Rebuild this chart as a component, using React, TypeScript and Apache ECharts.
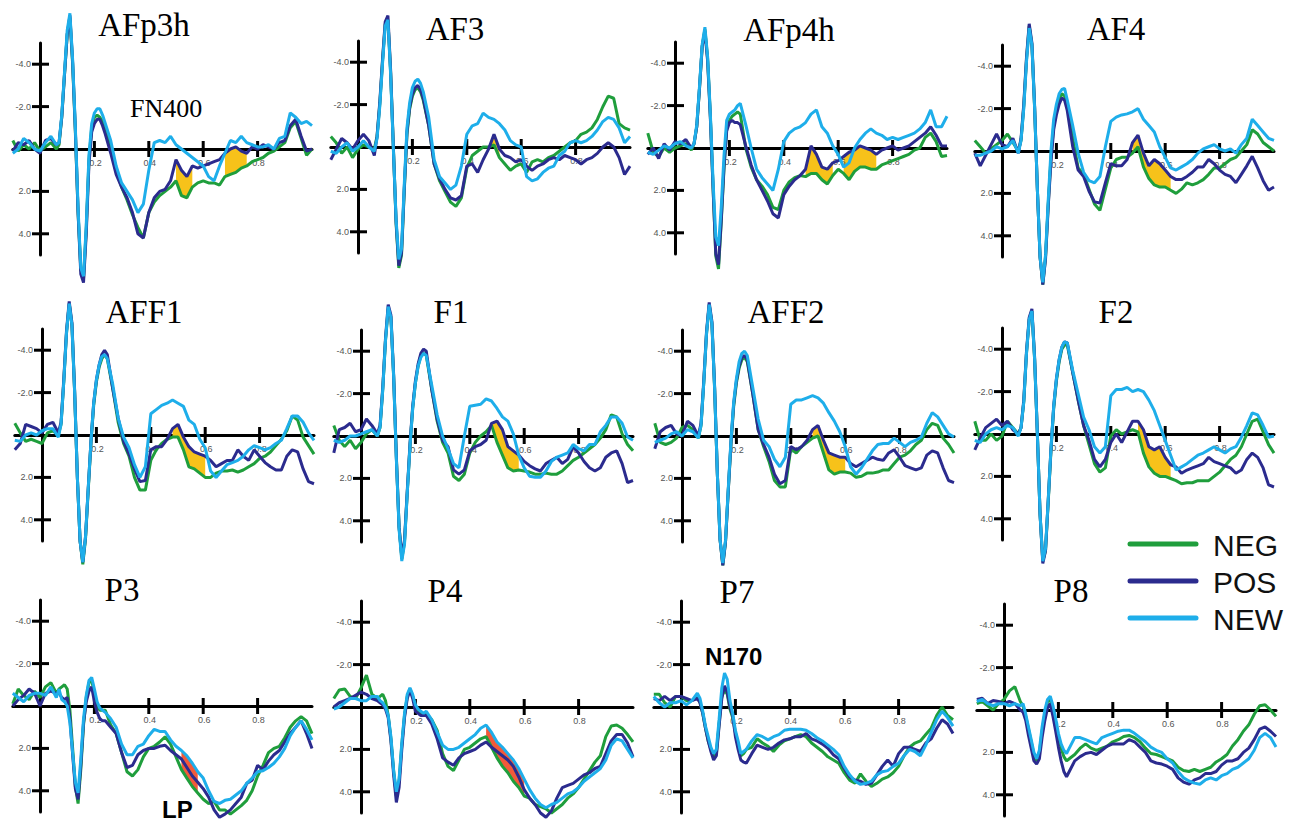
import React, { useEffect, useRef } from "react";
import * as echarts from "echarts";

// time points (s)
const T = [-0.1, -0.08, -0.06, -0.04, -0.02, 0, 0.02, 0.04, 0.06,
  0.07, 0.08, 0.09, 0.1, 0.11, 0.12, 0.13, 0.14, 0.15, 0.16, 0.17, 0.18, 0.19, 0.2, 0.21, 0.22, 0.23, 0.24,
  0.26, 0.28, 0.3, 0.32, 0.34, 0.36, 0.38, 0.4, 0.42, 0.44, 0.46, 0.48, 0.5, 0.52, 0.54, 0.56, 0.58, 0.6,
  0.62, 0.64, 0.66, 0.68, 0.7, 0.72, 0.74, 0.76, 0.78, 0.8, 0.82, 0.84, 0.86, 0.88, 0.9, 0.92, 0.94, 0.96, 0.98, 1.0];

const CHANNELS = ["AFp3h", "AF3", "AFp4h", "AF4", "AFF1", "F1", "AFF2", "F2", "P3", "P4", "P7", "P8"];
const CONDITIONS = ["NEG", "POS", "NEW"];
const X_TICKS = [0.2, 0.4, 0.6, 0.8];
const Y_TICKS = [-4, -2, 2, 4];

// amplitudes (µV), negative plotted up
const AFp3h_NEG = [-0.4, 0.1, -0.2, 0.0, -0.3, 0.1, -0.1, -0.3, 0.0,
  -0.2, -1.5, -3.5, -5.4, -6.2, -4.0, -0.8, 3.0, 5.7, 6.1, 3.8, 0.5, -1.0, -1.5, -1.6, -1.5, -1.3, -1.0,
  0.0, 1.0, 1.8, 2.4, 3.1, 3.7, 4.2, 3.0, 2.5, 2.2, 2.0, 1.8, 1.5, 2.2, 2.3, 1.8, 1.6, 1.5, 1.6, 1.6, 1.7, 1.3, 1.2, 1.1, 0.9, 0.8, 0.6, 0.5, 0.4, 0.2, 0.1, -0.1, -0.3, -1.0, -1.3, -0.5, 0.3, 0.0];
const AFp3h_POS = [0.1, -0.3, -0.2, -0.4, 0.0, 0.2, -0.4, -0.5, -0.2,
  -0.3, -1.5, -3.5, -5.4, -6.3, -4.1, -0.9, 3.0, 5.9, 6.3, 4.0, 0.7, -0.8, -1.2, -1.4, -1.4, -1.1, -0.7,
  0.2, 1.2, 1.8, 2.3, 3.0, 4.0, 4.2, 3.0, 2.3, 2.0, 1.9, 1.5, 0.5, 1.0, 1.3, 0.8, 0.9, 0.8, 0.7, 0.6, 0.5, 0.2, 0.0, -0.1, 0.1, 0.2, -0.1, 0.0, -0.2, -0.1, 0.0, -0.3, -0.4, -1.1, -1.4, -0.6, 0.1, 0.0];
const AFp3h_NEW = [0.2, 0.0, -0.5, -0.3, 0.0, 0.1, -0.3, -0.6, -0.2,
  -0.3, -1.6, -3.6, -5.6, -6.4, -4.2, -1.0, 2.8, 5.6, 6.0, 3.6, 0.3, -1.2, -1.7, -1.9, -1.9, -1.6, -1.2,
  -0.4, 0.8, 1.6, 2.0, 2.4, 3.0, 2.6, 1.0, -0.3, -0.4, -0.3, -0.6, -0.2, 0.0, 0.2, 0.4, 0.6, 0.8, 1.3, 1.5, 0.8, 0.2, -0.4, -0.3, -0.6, -0.3, -0.2, -0.1, -0.1, -0.2, 0.0, -0.5, -0.6, -1.7, -1.5, -1.2, -1.3, -1.1];

const AF3_NEG = [-0.5, -0.2, 0.3, 0.0, 0.5, 0.1, -0.1, 0.0, 0.1,
  -0.5, -2.0, -4.0, -5.8, -6.0, -3.5, 0.0, 3.6, 5.7, 5.1, 2.1, -0.6, -1.8, -2.4, -2.7, -2.8, -2.6, -2.2,
  -1.0, 0.8, 1.6, 2.1, 2.6, 2.8, 2.4, 1.0, 0.4, 0.2, 0.0, 0.0, -0.1, 0.5, 0.8, 1.1, 0.9, 0.8, 1.2, 0.7, 0.6, 0.7, 0.5, 0.4, 0.2, 0.0, -0.2, -0.3, -0.6, -0.7, -0.9, -1.3, -1.9, -2.4, -2.3, -1.1, -0.9, -0.8];
const AF3_POS = [0.6, 0.1, -0.4, -0.2, 0.1, -0.3, -0.6, -0.3, 0.4,
  -0.5, -2.1, -4.1, -5.9, -6.2, -3.6, 0.0, 3.5, 5.6, 5.0, 2.0, -0.7, -1.9, -2.5, -2.8, -2.9, -2.7, -2.3,
  -1.0, 0.8, 1.5, 2.0, 2.4, 2.5, 2.3, 0.9, 0.8, 1.2, 0.6, 0.1, -0.6, 0.1, 0.4, 0.5, 0.7, 0.6, 0.9, 1.1, 0.9, 0.8, 0.6, 0.5, 0.6, 0.4, 0.5, 0.6, 0.8, 0.6, 0.5, 0.3, 0.0, -0.2, 0.0, 0.5, 1.3, 0.9];
const AF3_NEW = [0.2, 0.3, 0.0, -0.2, 0.2, 0.0, -0.3, 0.0, 0.2,
  -0.4, -1.9, -3.9, -5.7, -6.0, -3.4, 0.1, 3.4, 5.3, 4.8, 1.8, -0.9, -2.1, -2.8, -3.1, -3.2, -3.0, -2.6,
  -1.4, 0.6, 1.4, 1.7, 2.0, 1.8, 0.9, -0.6, -1.0, -1.1, -1.6, -1.4, -1.3, -1.1, -0.8, -0.3, -0.1, 0.0, 1.4, 1.6, 1.5, 1.2, 1.0, 0.9, 0.4, 0.2, -0.2, -0.3, -0.2, -0.3, -0.5, -0.8, -1.2, -1.4, -1.3, -0.9, -0.2, -0.5];

const AFp4h_NEG = [-0.7, 0.2, 0.4, 0.0, 0.2, 0.0, -0.1, -0.2, 0.1,
  -0.2, -1.0, -2.8, -4.8, -5.6, -4.2, -1.5, 1.9, 5.1, 5.7, 3.5, 1.0, -0.9, -1.3, -1.5, -1.6, -1.7, -1.6,
  0.0, 0.9, 1.5, 1.8, 2.2, 2.8, 2.9, 2.0, 1.6, 1.4, 1.3, 1.35, 1.2, 1.2, 1.5, 1.7, 1.3, 1.0, 1.2, 1.5, 1.1, 0.9, 0.9, 1.0, 1.0, 0.8, 0.7, 0.6, 0.5, 0.4, 0.3, 0.1, 0.0, -0.5, -0.7, -0.3, 0.4, 0.35];
const AFp4h_POS = [0.3, 0.0, 0.5, -0.2, 0.1, -0.3, -0.2, -0.4, 0.0,
  -0.2, -1.0, -2.8, -4.8, -5.5, -4.1, -1.4, 1.9, 5.0, 5.5, 3.4, 0.9, -0.8, -1.2, -1.3, -1.2, -1.2, -1.1,
  -0.1, 0.8, 1.5, 2.0, 2.5, 3.1, 3.3, 2.2, 1.8, 1.5, 1.3, 1.0, -0.1, 0.3, 0.9, 1.0, 0.7, 0.6, 0.4, 0.2, 0.1, -0.1, 0.0, 0.1, 0.3, 0.1, 0.0, -0.1, 0.1, 0.0, -0.1, -0.3, -0.5, -0.7, -1.0, -0.6, -0.1, -0.1];
const AFp4h_NEW = [0.2, 0.3, 0.1, -0.1, 0.0, -0.2, -0.3, -0.1, 0.0,
  -0.2, -1.1, -2.9, -4.9, -5.7, -4.3, -1.6, 1.6, 4.2, 4.6, 2.8, 0.4, -1.3, -1.6, -1.7, -1.8, -2.0, -2.1,
  -1.1, 0.0, 1.0, 1.4, 1.7, 2.0, 1.0, -0.3, -0.7, -0.9, -1.0, -1.2, -1.6, -1.8, -1.0, -0.7, -0.1, 0.3, 0.9, 0.7, 0.0, -0.4, -0.7, -0.9, -0.7, -0.6, -0.4, -0.5, -0.4, -0.5, -0.6, -0.7, -0.9, -1.2, -1.8, -1.0, -1.0, -1.5];

const AF4_NEG = [-0.5, -0.2, 0.1, -0.1, -0.3, -0.5, -0.8, -0.4, 0.0,
  -0.5, -2.1, -4.3, -5.9, -5.0, -2.0, 1.8, 5.0, 6.3, 5.0, 2.5, 0.3, -1.2, -1.9, -2.4, -2.7, -2.6, -2.1,
  -0.6, 0.8, 1.1, 1.8, 2.5, 2.8, 1.8, 0.8, 0.4, 0.3, 0.3, 0.1, -0.2, 0.75, 1.3, 1.6, 1.7, 1.7, 1.85, 2.0, 1.8, 1.5, 1.6, 1.5, 1.35, 1.1, 0.8, 0.8, 0.6, 0.4, 0.3, 0.0, -0.3, -1.0, -0.8, -0.4, -0.2, 0.0];
const AF4_POS = [0.1, 0.7, 0.2, -0.3, -0.8, -0.3, -0.2, -0.6, 0.1,
  -0.6, -2.2, -4.4, -6.0, -5.1, -2.1, 1.8, 5.0, 6.3, 5.1, 2.6, 0.5, -1.0, -1.7, -2.2, -2.5, -2.4, -1.9,
  -0.2, 0.9, 1.2, 1.9, 2.4, 2.45, 1.5, 0.6, 0.7, 0.7, 0.4, -0.4, -0.75, 0.1, 0.7, 0.4, 0.6, 0.9, 1.2, 1.35, 1.35, 1.2, 1.0, 0.75, 0.75, 0.4, 0.6, 0.9, 1.1, 1.2, 1.5, 1.1, 0.7, 0.25, 0.8, 1.4, 1.85, 1.7];
const AF4_NEW = [0.2, 0.2, 0.1, 0.0, -0.2, -0.1, -0.2, -0.5, 0.1,
  -0.5, -2.0, -4.2, -5.8, -5.0, -2.0, 1.8, 5.0, 6.2, 4.9, 2.3, 0.0, -1.5, -2.2, -2.7, -2.9, -2.95, -2.4,
  -1.2, 0.1, 1.0, 1.4, 1.5, 1.2, -0.2, -1.4, -1.6, -1.7, -1.75, -1.85, -2.0, -1.5, -1.2, -0.9, -0.2, 0.3, 0.8, 0.9, 0.75, 0.6, 0.4, 0.1, -0.1, -0.2, -0.3, -0.1, 0.0, -0.1, 0.1, -0.3, -0.6, -1.5, -1.2, -0.9, -0.6, -0.5];

const AFF1_NEG = [-0.55, -0.1, 0.3, 0.2, 0.3, 0.4, -0.1, -0.2, 0.0,
  -0.5, -2.5, -4.8, -6.2, -5.2, -2.0, 2.0, 5.0, 6.1, 4.9, 2.6, 0.4, -1.4, -2.5, -3.2, -3.6, -3.8, -3.6,
  -2.2, -0.6, 0.4, 1.0, 2.0, 2.6, 2.6, 1.2, 0.7, 0.4, 0.2, 0.1, 0.1, 0.7, 1.5, 1.6, 1.8, 2.0, 2.0, 1.8, 1.7, 1.7, 1.65, 1.75, 1.65, 1.5, 1.35, 1.1, 1.0, 0.8, 0.5, 0.2, -0.2, -0.9, -0.7, 0.1, 0.5, 0.9];
const AFF1_POS = [0.7, 0.4, -0.5, -0.4, -0.3, -0.1, -0.5, -0.6, -0.1,
  -0.6, -2.6, -4.9, -6.3, -5.3, -2.1, 2.0, 5.0, 6.0, 4.8, 2.5, 0.3, -1.5, -2.6, -3.3, -3.8, -4.0, -3.8,
  -2.2, -0.8, 0.3, 0.9, 1.6, 2.2, 2.15, 0.7, 0.55, 0.55, 0.2, -0.3, -0.5, 0.1, 0.55, 0.8, 0.9, 1.0, 1.2, 1.5, 1.35, 1.2, 1.2, 0.7, 1.0, 1.2, 0.7, 1.0, 1.3, 1.5, 1.65, 1.65, 1.0, 0.7, 0.8, 1.6, 2.2, 2.3];
const AFF1_NEW = [0.25, 0.3, 0.0, -0.1, 0.0, -0.2, -0.3, -0.3, 0.1,
  -0.5, -2.5, -4.8, -6.2, -5.2, -2.0, 2.0, 5.0, 6.0, 4.8, 2.5, 0.3, -1.5, -2.6, -3.3, -3.7, -3.8, -3.6,
  -2.4, -0.8, 0.1, 0.6, 1.4, 2.0, 1.5, -1.0, -1.2, -1.4, -1.5, -1.65, -1.5, -1.35, -0.7, -0.5, 0.2, 0.6, 1.7, 2.0, 1.7, 1.4, 1.3, 1.2, 1.0, 0.7, 0.5, 0.6, 0.7, 0.6, 0.4, 0.25, -0.3, -0.9, -0.9, -0.6, -0.1, 0.25];

const F1_NEG = [-0.5, 0.2, 0.5, 0.2, 0.6, 0.3, -0.1, -0.3, 0.0,
  -0.4, -2.2, -4.5, -6.0, -5.6, -2.8, 1.0, 4.3, 5.8, 5.0, 2.7, 0.5, -1.3, -2.5, -3.3, -3.8, -3.9, -3.8,
  -2.2, -0.7, 0.3, 0.8, 1.9, 2.1, 1.8, 0.8, 0.3, 0.0, -0.2, -0.5, 0.3, 0.9, 1.5, 1.65, 1.6, 1.65, 1.7, 1.8, 1.8, 1.75, 1.8, 1.8, 1.65, 1.4, 1.15, 1.0, 0.8, 0.6, 0.4, 0.1, -0.3, -1.0, -0.9, -0.1, 0.4, 0.7];
const F1_POS = [0.8, -0.3, -0.4, -0.6, -0.2, -0.3, -0.8, -0.5, -0.1,
  -0.5, -2.3, -4.6, -6.2, -5.7, -2.9, 1.0, 4.3, 5.7, 4.9, 2.6, 0.4, -1.4, -2.6, -3.4, -3.9, -4.1, -4.0,
  -2.2, -0.8, 0.2, 0.5, 1.6, 1.8, 1.6, 0.7, 0.5, 0.4, 0.2, -0.6, -0.7, -0.3, 0.5, 0.7, 0.9, 1.2, 1.4, 1.55, 1.65, 1.3, 1.15, 1.0, 1.3, 1.1, 0.5, 0.8, 1.2, 1.5, 1.65, 1.5, 1.0, 0.8, 0.7, 1.3, 2.2, 2.1];
const F1_NEW = [0.2, 0.3, 0.2, 0.0, 0.0, -0.1, -0.2, -0.3, 0.0,
  -0.4, -2.2, -4.5, -6.1, -5.6, -2.8, 1.1, 4.4, 5.9, 5.1, 2.7, 0.5, -1.3, -2.5, -3.3, -3.7, -3.9, -3.8,
  -2.4, -1.0, 0.0, 0.6, 1.3, 1.5, 0.0, -1.4, -1.45, -1.5, -1.75, -1.65, -1.3, -0.9, -0.7, -0.1, 0.9, 1.5, 1.9, 1.95, 1.95, 1.65, 1.2, 1.0, 0.9, 0.8, 0.4, 0.6, 0.7, 0.4, 0.4, -0.2, -0.5, -0.9, -0.9, -0.6, 0.05, 0.2];

const AFF2_NEG = [-0.6, 0.3, 0.4, 0.3, 0.1, -0.4, -0.5, -0.3, 0.1,
  -0.5, -2.5, -4.8, -6.2, -5.3, -2.2, 1.8, 4.9, 6.1, 5.0, 2.6, 0.4, -1.4, -2.5, -3.2, -3.6, -3.7, -3.5,
  -2.0, -0.3, 0.5, 1.2, 2.1, 2.4, 2.4, 0.6, 0.8, 0.5, 0.3, 0.1, 0.0, 0.8, 1.6, 1.8, 1.7, 1.7, 1.75, 1.95, 1.9, 1.75, 1.75, 1.7, 1.6, 1.6, 1.3, 1.0, 0.9, 0.7, 0.4, 0.2, -0.3, -0.6, -0.5, 0.1, 0.4, 0.8];
const AFF2_POS = [0.6, -0.2, -0.4, -0.5, -0.1, 0.0, -0.7, -0.5, 0.0,
  -0.6, -2.6, -4.9, -6.3, -5.4, -2.3, 1.8, 4.9, 6.1, 5.0, 2.6, 0.3, -1.5, -2.6, -3.3, -3.7, -3.8, -3.6,
  -2.0, -0.3, 0.4, 1.0, 1.8, 2.25, 2.1, 0.5, 0.65, 0.5, 0.2, -0.3, -0.5, 0.2, 0.8, 0.9, 1.0, 1.0, 1.3, 1.45, 1.3, 1.15, 1.0, 1.1, 1.15, 0.8, 0.65, 1.0, 1.4, 1.5, 1.6, 1.5, 0.9, 0.7, 0.8, 1.5, 2.1, 2.2];
const AFF2_NEW = [0.3, 0.2, 0.1, -0.1, -0.2, 0.0, -0.3, -0.2, 0.1,
  -0.5, -2.5, -4.8, -6.2, -5.3, -2.2, 1.8, 4.9, 6.0, 4.9, 2.5, 0.2, -1.6, -2.7, -3.5, -3.9, -4.0, -3.8,
  -2.3, -0.8, 0.2, 0.5, 1.1, 1.45, 1.0, -1.5, -1.7, -1.7, -1.8, -1.9, -1.8, -1.55, -1.1, -0.7, -0.2, 0.5, 1.45, 1.8, 1.5, 1.1, 0.7, 0.4, 0.35, 0.35, 0.1, 0.3, 0.5, 0.3, 0.2, 0.05, -0.6, -1.1, -0.9, -0.5, -0.1, 0.05];

const F2_NEG = [-0.6, 0.3, 0.3, 0.0, 0.3, 0.1, -0.6, -0.3, 0.0,
  -0.3, -1.5, -3.8, -5.4, -5.8, -3.5, 0.0, 3.8, 6.0, 5.5, 3.2, 0.8, -1.2, -2.5, -3.4, -4.0, -4.2, -4.2,
  -2.9, -1.6, -0.4, 0.5, 1.4, 1.8, 1.6, 0.1, -0.2, 0.0, -0.1, -0.2, -0.1, 0.9, 1.55, 1.85, 2.0, 2.0, 2.1, 2.2, 2.35, 2.3, 2.3, 2.2, 2.2, 2.2, 2.0, 1.8, 1.5, 1.2, 1.0, 0.6, 0.0, -0.6, -0.7, -0.1, 0.5, 0.9];
const F2_POS = [0.75, 0.2, -0.3, -0.5, -0.7, -0.4, -0.6, -0.2, 0.0,
  -0.3, -1.6, -3.9, -5.5, -5.9, -3.6, 0.0, 3.8, 6.1, 5.5, 3.1, 0.7, -1.3, -2.6, -3.5, -4.1, -4.35, -4.3,
  -2.9, -1.6, -0.4, 0.3, 1.2, 1.55, 1.2, 0.4, 0.0, 0.4, -0.1, -0.6, -0.6, -0.2, 0.6, 0.75, 0.6, 1.1, 1.45, 1.55, 1.85, 1.7, 1.6, 1.5, 1.4, 1.1, 1.3, 1.4, 1.5, 1.6, 1.85, 1.7, 1.2, 0.9, 1.1, 1.6, 2.4, 2.5];
const F2_NEW = [0.3, 0.4, 0.0, -0.2, -0.3, -0.2, -0.4, -0.3, 0.1,
  -0.3, -1.5, -3.8, -5.4, -5.8, -3.5, 0.0, 3.8, 6.0, 5.4, 3.1, 0.7, -1.3, -2.6, -3.5, -4.1, -4.35, -4.3,
  -3.0, -1.9, -0.8, -0.2, 0.6, 0.9, 0.6, -1.8, -2.1, -2.1, -2.2, -2.0, -2.1, -2.0, -1.6, -1.1, -0.4, 0.3, 1.0, 1.7, 1.55, 1.4, 1.2, 1.0, 0.9, 0.75, 0.6, 0.75, 0.9, 0.7, 0.6, 0.15, -0.4, -1.0, -0.9, -0.4, 0.15, 0.1];

const P3_NEG = [-0.1, -0.8, -0.5, -0.3, -0.7, -0.4, -0.9, -1.1, -0.6,
  -0.8, -0.9, -1.0, -0.8, 0.2, 2.0, 3.8, 4.6, 3.0, 0.9, -0.4, -1.1, -1.2, -0.6, 0.0, 0.2, 0.2, 0.2,
  0.9, 1.3, 2.2, 3.1, 3.3, 3.0, 2.4, 2.0, 1.9, 1.7, 1.45, 1.8, 2.4, 3.0, 3.4, 3.8, 4.1, 4.4, 4.6, 4.5, 4.9, 4.9, 5.1, 4.9, 4.7, 4.45, 4.0, 3.3, 2.8, 2.2, 2.0, 1.9, 1.5, 1.0, 0.7, 0.5, 0.7, 1.3];
const P3_POS = [0.0, -0.3, -0.5, -0.8, -0.6, 0.0, -0.6, -0.7, -0.6,
  -0.6, -0.4, -0.3, -0.4, 0.6, 2.3, 3.9, 4.4, 2.8, 0.8, -0.2, -0.7, -0.9, -0.2, 0.3, 0.6, 0.7, 0.7,
  1.0, 1.3, 2.2, 2.9, 2.8, 2.3, 2.1, 2.0, 2.0, 1.9, 1.85, 2.1, 2.3, 2.5, 2.9, 3.3, 3.6, 3.9, 4.3, 4.9, 5.25, 5.1, 4.9, 4.6, 4.3, 3.65, 3.5, 2.8, 3.0, 2.6, 2.3, 2.1, 1.7, 1.3, 1.0, 0.7, 1.3, 2.0];
const P3_NEW = [-0.6, -0.4, -0.2, -0.5, -0.6, -0.6, -0.5, -0.9, -0.4,
  -0.8, -0.3, -0.2, 0.0, 0.8, 2.2, 3.6, 4.1, 2.5, 0.6, -0.5, -1.2, -1.35, -0.8, -0.2, 0.1, 0.2, 0.3,
  0.6, 1.0, 1.8, 2.3, 2.3, 1.9, 1.8, 1.4, 1.1, 1.2, 1.2, 1.6, 1.9, 2.1, 2.35, 2.7, 3.1, 3.4, 4.0, 4.5, 4.6, 4.45, 4.4, 4.2, 4.0, 3.65, 3.4, 3.1, 3.05, 2.9, 2.7, 2.4, 2.0, 1.4, 1.0, 0.7, 1.1, 1.6];

const P4_NEG = [-0.4, -0.8, -0.85, -0.5, -0.4, -0.9, -1.5, -0.6, -0.4,
  -0.5, -0.6, -0.3, 0.4, 1.5, 3.0, 4.2, 3.5, 1.8, 0.4, -0.5, -0.85, -0.5, 0.0, 0.2, 0.3, 0.3, 0.3,
  0.6, 1.1, 2.2, 2.8, 3.0, 2.5, 2.0, 1.9, 1.7, 1.5, 1.4, 1.9, 2.4, 2.8, 3.1, 3.5, 3.8, 4.2, 4.3, 4.6, 4.7, 4.8, 5.0, 4.8, 4.6, 4.3, 4.1, 3.8, 3.4, 3.0, 2.6, 2.3, 1.4, 0.9, 0.85, 1.0, 1.3, 1.65];
const P4_POS = [0.0, -0.2, -0.3, -0.4, -0.55, -0.7, -0.6, -0.4, -0.3,
  -0.2, -0.1, 0.1, 0.5, 1.6, 3.2, 4.5, 3.8, 2.0, 0.5, -0.4, -0.8, -0.4, 0.2, 0.3, 0.4, 0.4, 0.4,
  0.8, 1.5, 2.4, 2.6, 2.75, 2.4, 2.2, 2.1, 2.0, 1.8, 1.65, 1.9, 2.1, 2.3, 2.5, 2.8, 3.3, 3.9, 4.3, 4.6, 5.0, 5.2, 4.9, 4.3, 3.8, 3.7, 3.6, 3.4, 3.2, 3.1, 2.9, 2.8, 2.2, 1.6, 1.3, 1.3, 1.7, 2.35];
const P4_NEW = [0.1, 0.0, -0.2, -0.4, -0.4, -0.3, -0.3, -0.5, -0.5,
  -0.3, -0.2, 0.0, 0.4, 1.4, 3.0, 4.0, 3.4, 1.7, 0.3, -0.6, -0.9, -0.6, -0.1, 0.1, 0.2, 0.3, 0.2,
  0.6, 1.2, 1.8, 2.0, 2.0, 1.9, 1.7, 1.5, 1.3, 1.0, 0.85, 1.2, 1.65, 1.9, 2.2, 2.5, 2.9, 3.4, 3.9, 4.3, 4.6, 4.75, 4.6, 4.5, 4.3, 4.1, 4.0, 3.8, 3.5, 3.3, 3.1, 2.9, 2.5, 1.8, 1.5, 1.6, 2.0, 2.4];

const P7_NEG = [-0.6, -0.6, -0.2, 0.0, -0.5, -0.5, -0.3, -0.3, -0.5,
  -0.2, 0.3, 1.0, 1.6, 2.0, 2.3, 2.2, 0.8, -0.5, -0.8, -0.6, 0.1, 0.5, 1.2, 1.8, 2.3, 2.2, 2.0,
  1.9, 1.5, 1.7, 1.85, 2.1, 1.8, 1.6, 1.5, 1.4, 1.3, 1.4, 1.7, 1.9, 2.1, 2.35, 2.5, 2.65, 3.1, 3.45, 3.6, 3.15, 3.5, 3.75, 3.6, 3.4, 3.3, 3.1, 2.8, 2.3, 1.9, 1.7, 1.6, 1.3, 1.0, 0.4, 0.0, 0.4, 0.6];
const P7_POS = [-0.4, -0.3, -0.5, -0.3, -0.5, -0.5, -0.4, -0.3, -0.4,
  -0.2, 0.3, 1.0, 1.6, 2.1, 2.5, 2.3, 0.9, -0.4, -1.0, -0.7, 0.0, 0.4, 1.4, 2.0, 2.5, 2.6, 2.65,
  2.2, 1.8, 1.9, 2.0, 1.9, 1.7, 1.55, 1.5, 1.4, 1.4, 1.25, 1.5, 1.6, 1.75, 1.95, 2.25, 2.45, 2.9, 3.3, 3.45, 3.5, 3.65, 3.6, 3.2, 2.8, 2.5, 2.8, 2.2, 1.9, 1.9, 2.0, 2.1, 1.7, 1.5, 1.0, 0.6, 0.8, 1.25];
const P7_NEW = [-0.5, -0.2, 0.0, -0.2, -0.2, -0.3, -0.1, -0.3, -0.65,
  -0.4, 0.2, 0.9, 1.4, 1.9, 2.2, 2.0, 0.6, -0.9, -1.6, -1.3, -0.3, 0.3, 1.1, 1.6, 2.2, 2.1, 2.0,
  1.6, 1.3, 1.4, 1.55, 1.4, 1.3, 1.1, 1.05, 1.05, 1.05, 1.1, 1.25, 1.45, 1.6, 1.8, 2.0, 2.25, 2.8, 3.2, 3.5, 3.65, 3.6, 3.5, 3.2, 3.05, 3.0, 2.8, 2.65, 2.3, 2.0, 2.1, 2.3, 1.8, 1.2, 0.6, 0.2, 0.5, 0.9];

const P8_NEG = [-0.3, -0.4, -0.2, 0.0, -0.3, -0.5, -0.9, -1.1, -0.4,
  -0.2, 0.3, 0.9, 1.5, 2.1, 2.4, 2.0, 1.0, 0.2, -0.4, -0.5, 0.0, 0.6, 1.3, 1.8, 2.2, 2.4, 2.3,
  2.1, 1.8, 1.6, 1.8, 1.9, 1.8, 1.7, 1.5, 1.4, 1.25, 1.2, 1.3, 1.5, 1.8, 2.05, 2.1, 2.2, 2.3, 2.4, 2.7, 2.85, 2.9, 2.8, 2.9, 2.8, 2.7, 2.45, 2.3, 2.1, 1.7, 1.4, 1.0, 0.7, 0.2, -0.2, -0.25, 0.0, 0.3];
const P8_POS = [-0.5, -0.55, -0.3, -0.45, -0.4, -0.3, -0.4, -0.3, 0.0,
  0.1, 0.5, 1.2, 1.8, 2.4, 2.55, 2.3, 1.3, 0.5, -0.1, -0.3, 0.3, 1.0, 1.75, 2.4, 2.9, 3.15, 2.9,
  2.4, 2.2, 2.05, 2.0, 2.1, 1.9, 1.7, 1.6, 1.6, 1.6, 1.4, 1.5, 1.75, 2.0, 2.4, 2.5, 2.55, 2.65, 2.8, 3.2, 3.4, 3.5, 3.3, 3.2, 3.0, 3.0, 2.9, 2.6, 2.4, 2.4, 2.3, 2.0, 1.8, 1.4, 0.9, 0.8, 1.0, 1.25];
const P8_NEW = [-0.4, -0.5, -0.3, -0.2, -0.3, -0.3, -0.2, -0.3, -0.2,
  -0.3, 0.2, 0.8, 1.4, 2.0, 2.3, 1.9, 0.8, 0.0, -0.5, -0.65, -0.2, 0.4, 1.1, 1.6, 1.9, 2.05, 1.8,
  1.3, 1.3, 1.4, 1.5, 1.6, 1.3, 1.2, 1.1, 1.0, 0.95, 0.95, 1.1, 1.3, 1.5, 1.75, 1.9, 2.0, 2.3, 2.5, 2.9, 3.2, 3.35, 3.45, 3.5, 3.3, 3.2, 3.3, 3.1, 3.0, 2.8, 2.7, 2.5, 2.3, 1.9, 1.3, 1.1, 1.3, 1.75];

const WAVES: number[][][] = [
  [AFp3h_NEG, AFp3h_POS, AFp3h_NEW], [AF3_NEG, AF3_POS, AF3_NEW], [AFp4h_NEG, AFp4h_POS, AFp4h_NEW], [AF4_NEG, AF4_POS, AF4_NEW],
  [AFF1_NEG, AFF1_POS, AFF1_NEW], [F1_NEG, F1_POS, F1_NEW], [AFF2_NEG, AFF2_POS, AFF2_NEW], [F2_NEG, F2_POS, F2_NEW],
  [P3_NEG, P3_POS, P3_NEW], [P4_NEG, P4_POS, P4_NEW], [P7_NEG, P7_POS, P7_NEW], [P8_NEG, P8_POS, P8_NEW],
];

// shaded significant windows: panel, from, to, condition a, condition b, kind
const FILL_PANEL = [0, 0, 1, 2, 2, 3, 4, 5, 6, 7, 8, 9];
const FILL_FROM = [0.5, 0.68, 0.48, 0.48, 0.62, 0.48, 0.48, 0.48, 0.48, 0.5, 0.52, 0.46];
const FILL_TO = [0.56, 0.76, 0.52, 0.58, 0.74, 0.62, 0.6, 0.58, 0.6, 0.62, 0.58, 0.6];
const FILL_A = [1, 1, 1, 1, 1, 1, 1, 1, 1, 1, 2, 2];
const FILL_B = [0, 0, 0, 0, 0, 0, 0, 0, 0, 0, 0, 0];
const FILL_KIND = [0, 0, 0, 0, 0, 0, 0, 0, 0, 0, 1, 1];

// layout (y-axis x position, zero-line y position)
const PANEL_X = [40, 358, 675, 1002, 42, 361, 682, 1002, 40, 361, 681, 1004];
const PANEL_Z = [149, 147, 148, 151, 435, 436, 436, 434, 706, 707, 707, 710];
const PX_PER_S = 272;
const PX_PER_UV = 21.2;
const TITLE_X = [144, 455, 789, 1116, 144, 451, 786, 1116, 122, 445, 737, 1071];
const TITLE_Y = [25, 29, 30, 29, 312, 312, 312, 312, 590, 591, 592, 591];
const LEGEND_Y = [544, 581, 618];

const COLORS = ["#1f9e3c", "#2b2b8e", "#1eaeea"];
const FILL_COLORS = ["#f7c21a", "#f25a3a"];

export default function App() {
  const ref = useRef<HTMLDivElement>(null);
  useEffect(() => {
    if (!ref.current) return;
    const chart = echarts.init(ref.current, undefined, { renderer: "svg" });
    const grid: any[] = [];
    const xAxis: any[] = [];
    const yAxis: any[] = [];
    const series: any[] = [];

    CHANNELS.forEach((ch, i) => {
      const left = PANEL_X[i] - 0.1 * PX_PER_S;
      const top = PANEL_Z[i] - 5 * PX_PER_UV;
      grid.push({ left, top, width: 1.1 * PX_PER_S, height: 10 * PX_PER_UV, containLabel: false });
      xAxis.push({
        type: "value", gridIndex: i, min: -0.1, max: 1.0, interval: 0.1,
        axisLine: { show: true, onZero: true, lineStyle: { color: "#000", width: 3 } },
        axisTick: { show: false }, splitLine: { show: false }, axisLabel: { show: false },
      });
      yAxis.push({
        type: "value", gridIndex: i, min: -5, max: 5, interval: 1, inverse: true,
        axisLine: { show: true, onZero: true, lineStyle: { color: "#000", width: 3 } },
        axisTick: { show: false }, splitLine: { show: false }, axisLabel: { show: false },
      });

      const waves = WAVES[i];
      const fills: number[] = [];
      FILL_PANEL.forEach((p, k) => { if (p === i) fills.push(k); });
      if (fills.length) {
        series.push({
          type: "custom", name: "fill-" + ch, xAxisIndex: i, yAxisIndex: i, z: 1, silent: true,
          data: fills.map((k) => [FILL_FROM[k], 0]),
          renderItem: (params: any, api: any) => {
            const k = fills[params.dataIndex];
            const up = waves[FILL_A[k]];
            const lo = waves[FILL_B[k]];
            const a: number[][] = [];
            const b: number[][] = [];
            T.forEach((t, j) => {
              if (t >= FILL_FROM[k] - 1e-6 && t <= FILL_TO[k] + 1e-6) {
                a.push(api.coord([t, up[j]]));
                b.push(api.coord([t, lo[j]]));
              }
            });
            return { type: "polygon", shape: { points: a.concat(b.reverse()) }, style: { fill: FILL_COLORS[FILL_KIND[k]] } };
          },
        });
      }

      // axis tick marks crossing the axes, with their labels
      series.push({
        type: "custom", name: "ticks-" + ch, xAxisIndex: i, yAxisIndex: i, z: 1, silent: true,
        data: X_TICKS.map((x) => [x, 0, 0]).concat(Y_TICKS.map((y) => [0, y, 1])),
        renderItem: (params: any, api: any) => {
          const xv = api.value(0);
          const yv = api.value(1);
          const p = api.coord([xv, yv]);
          const vertical = api.value(2) === 0;
          const label = (vertical ? xv : yv).toFixed(1);
          return {
            type: "group",
            children: [
              {
                type: "line",
                shape: vertical ? { x1: p[0], y1: p[1] - 8, x2: p[0], y2: p[1] + 8 } : { x1: p[0] - 8, y1: p[1], x2: p[0] + 9, y2: p[1] },
                style: { stroke: "#000", lineWidth: 3 },
              },
              {
                type: "text",
                style: vertical
                  ? { text: label, x: p[0] + 1, y: p[1] + 9, textAlign: "center", textVerticalAlign: "top", verticalAlign: "top", font: "9px 'Liberation Sans'", fill: "#555" }
                  : { text: label, x: p[0] - 9, y: p[1], textAlign: "right", textVerticalAlign: "middle", verticalAlign: "middle", font: "9px 'Liberation Sans'", fill: "#555" },
              },
            ],
          };
        },
      });

      CONDITIONS.forEach((c, k) => {
        series.push({
          type: "line", name: c, xAxisIndex: i, yAxisIndex: i, z: 2 + k,
          data: T.map((t, j) => [t, waves[k][j]]),
          showSymbol: false, symbol: "none", clip: false, silent: true,
          lineStyle: { color: COLORS[k], width: 3 },
          itemStyle: { color: COLORS[k] },
        });
      });
    });

    const graphic: any[] = CHANNELS.map((ch, i) => ({
      type: "text", x: TITLE_X[i], y: TITLE_Y[i], silent: true,
      style: { text: ch, font: "33px 'Liberation Serif'", fill: "#000", textAlign: "center", textVerticalAlign: "middle", verticalAlign: "middle" },
    }));
    graphic.push({ type: "text", x: 130, y: 108, style: { text: "FN400", font: "26px 'Liberation Serif'", fill: "#000", textAlign: "left", verticalAlign: "middle", textVerticalAlign: "middle" } });
    graphic.push({ type: "text", x: 705, y: 656, style: { text: "N170", font: "bold 24px 'Liberation Sans'", fill: "#000", textAlign: "left", verticalAlign: "middle", textVerticalAlign: "middle" } });
    graphic.push({ type: "text", x: 162, y: 821, style: { text: "LP", font: "bold 24px 'Liberation Sans'", fill: "#000", textAlign: "left", verticalAlign: "bottom", textVerticalAlign: "bottom" } });
    CONDITIONS.forEach((c, k) => {
      graphic.push({ type: "line", silent: true, shape: { x1: 1130, y1: LEGEND_Y[k], x2: 1196, y2: LEGEND_Y[k] }, style: { stroke: COLORS[k], lineWidth: 5, lineCap: "round" } });
      graphic.push({ type: "text", x: 1213, y: LEGEND_Y[k] + 1, silent: true, style: { text: c, font: "30px 'Liberation Sans'", fill: "#111", textAlign: "left", verticalAlign: "middle", textVerticalAlign: "middle" } });
    });

    chart.setOption({
      animation: false,
      backgroundColor: "#fff",
      grid, xAxis, yAxis, series, graphic,
    });
    return () => chart.dispose();
  }, []);
  return <div ref={ref} style={{ position: "fixed", left: 0, top: 0, width: 1304, height: 822 }} />;
}
